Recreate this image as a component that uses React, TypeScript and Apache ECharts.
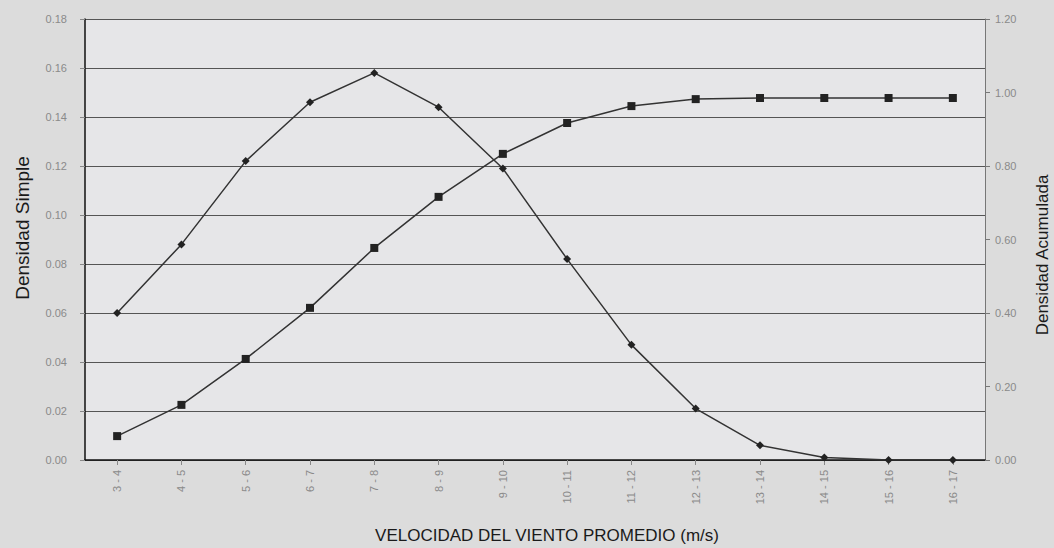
import React, { useEffect, useRef } from "react";
import * as echarts from "echarts";

const categories = ["3 - 4", "4 - 5", "5 - 6", "6 - 7", "7 - 8", "8 - 9", "9 - 10", "10 - 11", "11 - 12", "12 - 13", "13 - 14", "14 - 15", "15 - 16", "16 - 17"];
const densidadSimple = [0.060, 0.088, 0.122, 0.146, 0.158, 0.144, 0.119, 0.082, 0.047, 0.021, 0.006, 0.001, 0.0, 0.0];
const densidadAcumulada = [0.065, 0.150, 0.275, 0.414, 0.577, 0.716, 0.833, 0.917, 0.963, 0.982, 0.985, 0.985, 0.985, 0.985];
const xTitle = "VELOCIDAD DEL VIENTO PROMEDIO (m/s)";
const yLeftTitle = "Densidad Simple";
const yRightTitle = "Densidad Acumulada";

export default function App() {
  const ref = useRef<HTMLDivElement>(null);
  useEffect(() => {
    if (!ref.current) return;
    const chart = echarts.init(ref.current, null, { renderer: "svg" });
    const font = "Liberation Sans, Arial, sans-serif";
    chart.setOption({
      animation: false,
      backgroundColor: "#dcdcdc",
      grid: { left: 85, right: 69, top: 19, bottom: 88, show: true, backgroundColor: "#e6e6e8", borderWidth: 0 },
      graphic: [
        { type: "text", x: 547, y: 535, style: { text: xTitle, fontFamily: font, fontSize: 17, fill: "#1a1a1a", align: "center", verticalAlign: "middle" } },
        { type: "text", x: 22, y: 228, rotation: Math.PI / 2, style: { text: yLeftTitle, fontFamily: font, fontSize: 19, fill: "#1a1a1a", align: "center", verticalAlign: "middle" } },
        { type: "text", x: 1042, y: 255, rotation: Math.PI / 2, style: { text: yRightTitle, fontFamily: font, fontSize: 17, fill: "#1a1a1a", align: "center", verticalAlign: "middle" } },
      ],
      xAxis: {
        type: "category",
        data: categories,
        boundaryGap: true,
        axisLine: { lineStyle: { color: "#111", width: 1.5 } },
        axisTick: { show: true, alignWithLabel: true, lineStyle: { color: "#888" } },
        axisLabel: { rotate: 90, fontFamily: font, fontSize: 11, color: "#8a8a8a", margin: 10 },
      },
      yAxis: [
        {
          type: "value",
          min: 0,
          max: 0.18,
          interval: 0.02,
          axisLine: { show: true, lineStyle: { color: "#111", width: 1.5 } },
          axisTick: { show: true, lineStyle: { color: "#888" } },
          axisLabel: { fontFamily: font, fontSize: 11, color: "#8a8a8a", margin: 18, formatter: (v: number) => v.toFixed(2) },
          splitLine: { show: true, lineStyle: { color: "#555", width: 1.2 } },
        },
        {
          type: "value",
          min: 0,
          max: 1.2,
          interval: 0.2,
          axisLine: { show: true, lineStyle: { color: "#777", width: 1 } },
          axisTick: { show: true, lineStyle: { color: "#777" } },
          axisLabel: { fontFamily: font, fontSize: 11, color: "#8a8a8a", margin: 10, formatter: (v: number) => v.toFixed(2) },
          splitLine: { show: false },
        },
      ],
      series: [
        {
          name: "Densidad Simple",
          type: "line",
          yAxisIndex: 0,
          data: densidadSimple,
          symbol: "diamond",
          symbolSize: 8,
          itemStyle: { color: "#222" },
          lineStyle: { color: "#333", width: 1.5 },
        },
        {
          name: "Densidad Acumulada",
          type: "line",
          yAxisIndex: 1,
          data: densidadAcumulada,
          symbol: "rect",
          symbolSize: 8,
          itemStyle: { color: "#222" },
          lineStyle: { color: "#333", width: 1.5 },
        },
      ],
    });
    return () => chart.dispose();
  }, []);
  return <div ref={ref} style={{ position: "fixed", left: 0, top: 0, width: 1054, height: 548 }} />;
}
